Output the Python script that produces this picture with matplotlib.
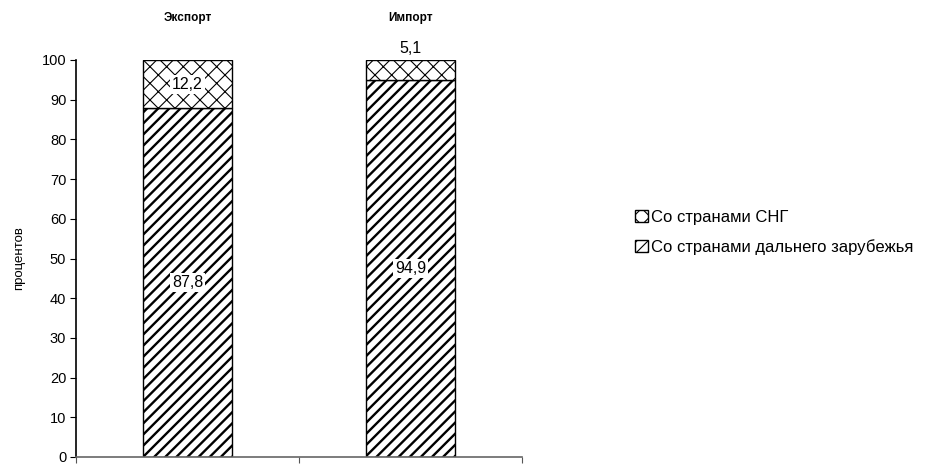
import matplotlib.pyplot as plt
import matplotlib as mpl

categories = ['Экспорт', 'Импорт']
far_abroad = [87.8, 94.9]  # Со странами дальнего зарубежья
cis = [12.2, 5.1]          # Со странами СНГ
far_labels = ['87,8', '94,9']
cis_labels = ['12,2', '5,1']

plt.rcParams['font.family'] = ['Liberation Sans', 'DejaVu Sans']

fig = plt.figure(figsize=(9.44, 4.66), dpi=100)
ax = fig.add_axes([76 / 944, 9 / 466, 446 / 944, 397 / 466])

x = range(len(categories))
w = 0.395
mpl.rcParams['hatch.linewidth'] = 1.7
b1 = ax.bar(x, far_abroad, w, color='white', edgecolor='black', hatch='///', linewidth=1,
            label='Со странами дальнего зарубежья')
mpl.rcParams['hatch.linewidth'] = 0.8
b2 = ax.bar(x, cis, w, bottom=far_abroad, color='white', edgecolor='black', hatch='xx', linewidth=1,
            label='Со странами СНГ')

ax.set_xlim(-0.5, 1.5)
ax.set_ylim(0, 100)
ax.set_yticks(range(0, 101, 10))
ax.tick_params(axis='y', labelsize=10.5, length=4, direction='out', pad=3)
ax.set_xticks([-0.5, 0.5, 1.5])
ax.set_xticklabels([])
ax.tick_params(axis='x', length=4, direction='out', color='#555555')
for s in ['top', 'right']:
    ax.spines[s].set_visible(False)
ax.spines['bottom'].set_color('#666666')
ax.spines['bottom'].set_linewidth(1.2)
ax.spines['left'].set_linewidth(1.2)
ax.set_ylabel('процентов', fontsize=9.5, labelpad=12)

box = dict(facecolor='white', edgecolor='none', pad=1.5)
for i in x:
    ax.text(i, far_abroad[i] / 2, far_labels[i], ha='center', va='center', fontsize=11.5, bbox=box)
ax.text(0, far_abroad[0] + cis[0] / 2, cis_labels[0], ha='center', va='center', fontsize=11.5, bbox=box)
ax.text(1, 101, cis_labels[1], ha='center', va='bottom', fontsize=11.5)

# подписи категорий над столбцами
for i in x:
    ax.annotate(categories[i], xy=(i, 100), xytext=(0, 30), textcoords='offset points',
                ha='center', va='center', fontsize=8.5, fontweight='bold', annotation_clip=False)

ax.legend(handles=[b2, b1], loc='upper left', bbox_to_anchor=((628 - 76) / 446, 0.64),
          frameon=False, fontsize=12, handlelength=0.8, handleheight=0.8, handletextpad=0.2,
          labelspacing=0.85, borderaxespad=0)

fig.savefig('out.png', dpi=100)
